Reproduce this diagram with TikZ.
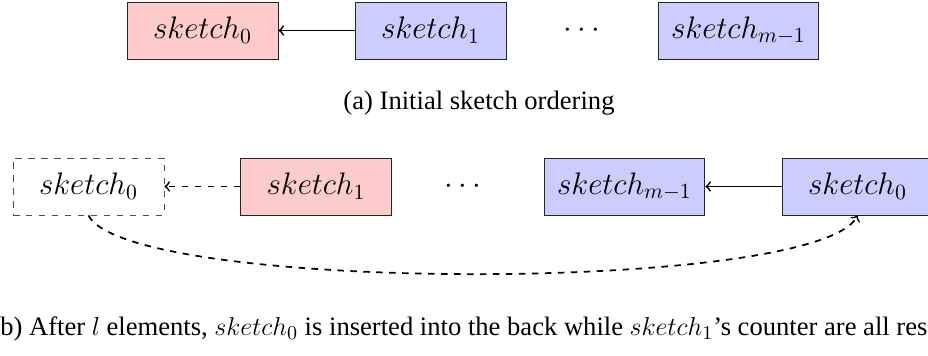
\documentclass[tikz,border=0pt]{standalone}
\usepackage{fontspec}
\setmainfont{Liberation Serif}
\begin{document}
\begin{tikzpicture}[x=0.4625pt,y=-0.4625pt,
  sk/.style={draw=black!85,line width=0.4pt,minimum width=69.8pt,minimum height=26.4pt,inner xsep=6pt,font=\Large},
  skred/.style={sk,fill=red!20},
  skblue/.style={sk,fill=blue!20},
  skghost/.style={sk,draw=black!70,dashed},
  link/.style={->,thick},
  dlink/.style={->,thick,dashed},
  captext/.style={font=\fontsize{12.3}{14.6}\selectfont,inner sep=0pt}]
\useasboundingbox (0,0) rectangle (928,356);
\clip (0,0) rectangle (928,356);
% (a)
\node[skred]  (a0) at (202.5,30.5) {$sketch_0$};
\node[skblue] (a1) at (430.5,30.5) {$sketch_1$};
\node         (ad) at (582,31) {\Large$\cdots$};
\node[skblue] (am) at (738.5,30.5) {$sketch_{m-1}$};
\draw[link] (a1) -- (a0);
\node[captext] (capa) at (479,103) {(a) Initial sketch ordering};
% (b)
\node[skghost] (b0) at (88.5,186.5) {$sketch_0$};
\node[skred]   (b1) at (316,186.5) {$sketch_1$};
\node          (bd) at (463,187) {\Large$\cdots$};
\node[skblue]  (bm) at (624.5,186.5) {$sketch_{m-1}$};
\node[skblue]  (bz) at (857.5,186.5) {$sketch_0$};
\draw[dlink] (b1) -- (b0);
\draw[link] (bz) -- (bm);
\draw[dlink] (b0.south) .. controls +(40,78) and +(-40,78) .. (bz.south);
\node[captext,anchor=base west] (capb) at (-9,336) {(b) After $l$ elements, $sketch_0$ is inserted into the back while $sketch_1$'s counter are all reset.};
\end{tikzpicture}
\end{document}
